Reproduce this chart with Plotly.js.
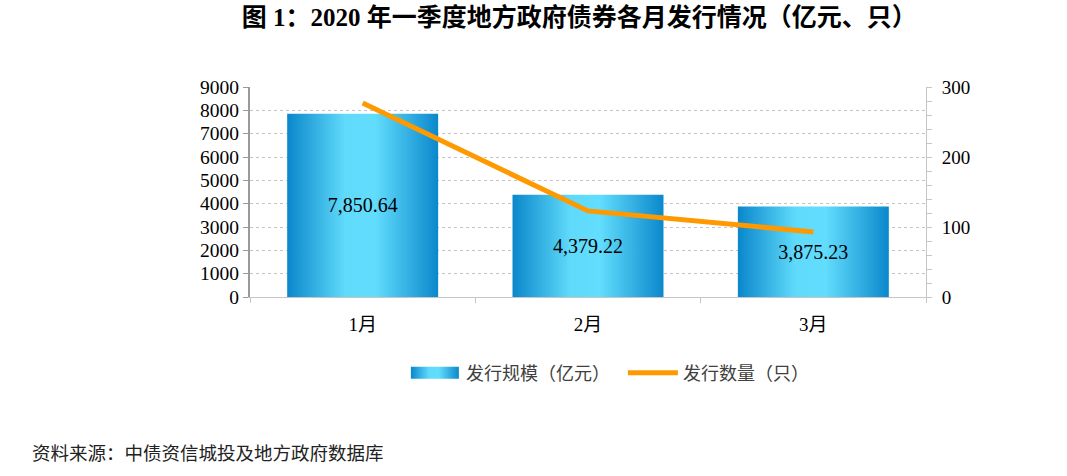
<!DOCTYPE html>
<html>
<head>
<meta charset="utf-8">
<script src="https://cdn.plot.ly/plotly-3.0.1.min.js"></script>
<style>
html,body{margin:0;padding:0;background:#fff;}
#chart{width:1067px;height:476px;}
</style>
</head>
<body>
<div id="chart"></div>
<script>
// ---- data ----
const months = ["1月", "2月", "3月"];
const issueAmount = [7850.64, 4379.22, 3875.23];   // 发行规模（亿元）
const issueCount = [277, 123, 93];                  // 发行数量（只）
const leftTicks = [0, 1000, 2000, 3000, 4000, 5000, 6000, 7000, 8000, 9000];
const rightTicks = [0, 100, 200, 300];

const serif = 'Liberation Serif, Times New Roman, Noto Sans CJK SC, serif';
const cjk = 'Noto Sans CJK SC, Noto Sans, sans-serif';

const traces = [
  {
    type: 'bar',
    name: '发行规模（亿元）',
    x: months,
    y: issueAmount,
    width: 0.67,
    marker: {color: '#3ab8ea', line: {width: 0}},
    texttemplate: '%{y:,.2f}',
    textposition: 'inside',
    insidetextanchor: 'middle',
    textfont: {family: serif, size: 20, color: '#000'},
    hoverinfo: 'skip'
  },
  {
    type: 'scatter',
    mode: 'lines',
    name: '发行数量（只）',
    x: months,
    y: issueCount,
    yaxis: 'y2',
    line: {color: '#ff9900', width: 5},
    hoverinfo: 'skip'
  }
];

const layout = {
  width: 1067,
  height: 476,
  paper_bgcolor: '#fff',
  plot_bgcolor: '#fff',
  margin: {l: 250, r: 141, t: 87, b: 179},
  showlegend: true,
  title: {
    text: '<b>图 1：2020 年一季度地方政府债券各月发行情况（亿元、只）</b>',
    font: {family: serif, size: 25, color: '#000'},
    x: 0.487, xanchor: 'center', xref: 'paper',
    y: 0.964, yanchor: 'middle'
  },
  xaxis: {
    type: 'category',
    showline: true, linecolor: '#c6c6c6', linewidth: 1,
    ticks: 'outside', tickson: 'boundaries', ticklen: 5, tickcolor: '#c6c6c6',
    ticklabelstandoff: 10,
    tickfont: {family: serif, size: 19, color: '#000'},
    showgrid: false, zeroline: false, fixedrange: true
  },
  yaxis: {
    range: [0, 9000],
    tickvals: leftTicks,
    ticktext: leftTicks.map(String),
    showline: true, linecolor: '#9a9a9a', linewidth: 2,
    ticks: 'outside', ticklen: 5, tickcolor: '#9a9a9a', tickwidth: 1,
    tickfont: {family: serif, size: 19.5, color: '#000'},
    showgrid: true, gridcolor: '#c4c4c4', griddash: 'dot', gridwidth: 1,
    zeroline: false, fixedrange: true
  },
  yaxis2: {
    overlaying: 'y', side: 'right',
    range: [0, 300],
    tickvals: rightTicks,
    ticktext: rightTicks.map(String),
    showline: true, linecolor: '#c6c6c6', linewidth: 1,
    ticks: 'outside', ticklen: 5, tickcolor: '#c6c6c6',
    minor: {dtick: 20, ticks: 'outside', ticklen: 5, tickcolor: '#c6c6c6', showgrid: false},
    ticklabelstandoff: 6,
    tickfont: {family: serif, size: 19, color: '#000'},
    showgrid: false, zeroline: false, fixedrange: true
  },
  legend: {
    orientation: 'h',
    x: 0.2306, xanchor: 'left',
    y: -0.362, yanchor: 'middle',
    font: {family: cjk, size: 18, color: '#404040'},
    itemwidth: 50,
    entrywidth: 152,
    bgcolor: 'rgba(0,0,0,0)'
  },
  annotations: [
    {
      text: '资料来源：中债资信城投及地方政府数据库',
      xref: 'paper', yref: 'paper',
      x: -0.325, xanchor: 'left',
      y: -0.738, yanchor: 'middle',
      showarrow: false,
      font: {family: cjk, size: 18.5, color: '#222'}
    }
  ]
};

function applyGradient(gd) {
  const svgs = gd.querySelectorAll('svg.main-svg');
  if (!svgs.length) return;
  const ns = 'http://www.w3.org/2000/svg';
  if (!document.getElementById('barGrad')) {
    let defs = svgs[0].querySelector('defs');
    if (!defs) { defs = document.createElementNS(ns, 'defs'); svgs[0].insertBefore(defs, svgs[0].firstChild); }
    const lg = document.createElementNS(ns, 'linearGradient');
    lg.setAttribute('id', 'barGrad');
    lg.setAttribute('x1', '0'); lg.setAttribute('y1', '0');
    lg.setAttribute('x2', '1'); lg.setAttribute('y2', '0');
    const stops = [[0, '#0a87cb'], [0.38, '#5fdafb'], [0.58, '#62ddfd'], [1, '#0b88cc']];
    stops.forEach(s => {
      const st = document.createElementNS(ns, 'stop');
      st.setAttribute('offset', s[0]);
      st.setAttribute('stop-color', s[1]);
      lg.appendChild(st);
    });
    defs.appendChild(lg);
  }
  gd.querySelectorAll('.barlayer .point path').forEach(p => { p.style.fill = 'url(#barGrad)'; });
  const legendTraces = gd.querySelectorAll('.legend .traces');
  if (legendTraces.length) {
    const t0 = legendTraces[0];
    t0.querySelectorAll('.legendpoints path').forEach(p => {
      t0.appendChild(p);
      p.removeAttribute('transform');
      p.setAttribute('d', 'M5,-6h48v12h-48Z');
      p.style.fill = 'url(#barGrad)';
    });
    if (legendTraces[1]) {
      legendTraces[1].querySelectorAll('.legendlines path').forEach(p => {
        p.setAttribute('d', 'M5,0h50');
      });
    }
  }
}

const gd = document.getElementById('chart');
Plotly.newPlot(gd, traces, layout, {displayModeBar: false, staticPlot: true}).then(() => {
  applyGradient(gd);
  gd.on('plotly_afterplot', () => applyGradient(gd));
});
</script>
</body>
</html>
